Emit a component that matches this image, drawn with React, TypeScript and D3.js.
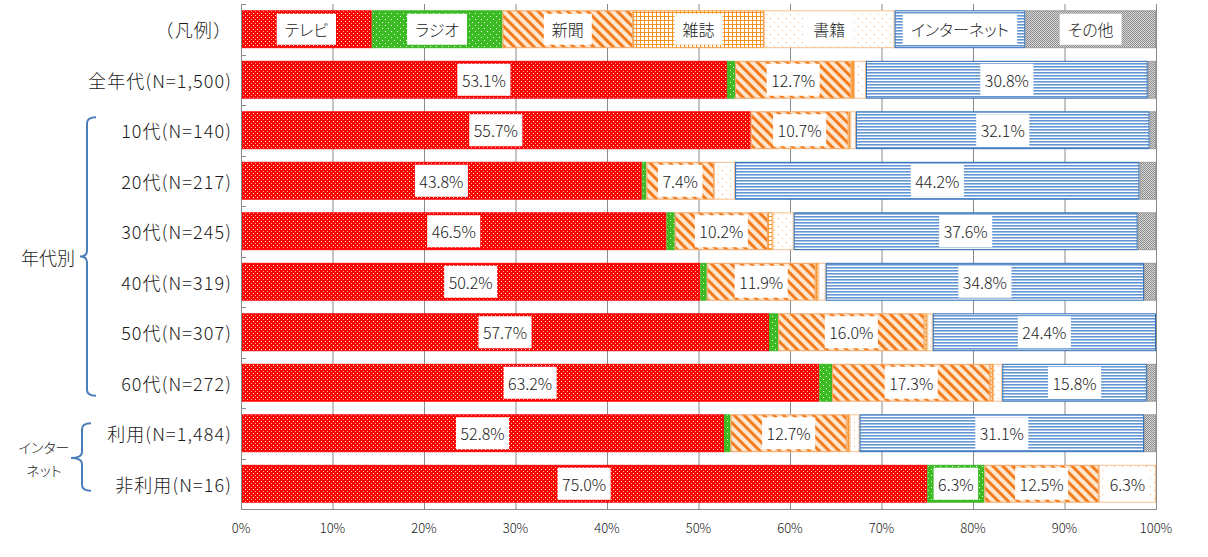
import React, { useEffect, useRef } from "react";
import * as d3 from "d3";

const W = 1208;
const H = 557;

const categories = [
  "（凡例）",
  "全年代(N=1,500)",
  "10代(N=140)",
  "20代(N=217)",
  "30代(N=245)",
  "40代(N=319)",
  "50代(N=307)",
  "60代(N=272)",
  "利用(N=1,484)",
  "非利用(N=16)",
];
const seriesNames = ["テレビ", "ラジオ", "新聞", "雑誌", "書籍", "インターネット", "その他"];
const seriesKeys = ["tv", "radio", "newspaper", "magazine", "books", "internet", "other"];

// data rows (categories[1..])
const tv = [53.1, 55.7, 43.8, 46.5, 50.2, 57.7, 63.2, 52.8, 75.0];
const radio = [0.9, 0.0, 0.5, 0.9, 0.7, 1.0, 1.4, 0.7, 6.25];
const newspaper = [12.7, 10.7, 7.4, 10.2, 11.9, 16.0, 17.3, 12.7, 12.5];
const magazine = [0.3, 0.2, 0.0, 0.5, 0.3, 0.3, 0.3, 0.3, 0.0];
const books = [1.3, 0.6, 2.3, 2.3, 0.8, 0.6, 1.0, 1.1, 6.25];
const internet = [30.8, 32.1, 44.2, 37.6, 34.8, 24.4, 15.8, 31.1, 0.0];
const other = [0.9, 0.7, 1.8, 2.0, 1.3, 0.0, 1.0, 1.3, 0.0];

const xTicks = [0, 10, 20, 30, 40, 50, 60, 70, 80, 90, 100];
const legendShare = 100 / seriesNames.length;

const strokeColors = ["#ff0000", "#3cb521", "#f4a460", "#f79a3a", "#f8c08f", "#2e6db4", "#9a9a9a"];

const FONT = '"Noto Sans CJK JP", "Noto Sans", sans-serif';

export default function App() {
  const ref = useRef<SVGSVGElement | null>(null);

  useEffect(() => {
    const svg = d3.select(ref.current);
    svg.selectAll("*").remove();

    const left = 241;
    const right = 1156;
    const top = 4;
    const bottom = 509;

    const x = d3.scaleLinear().domain([0, 100]).range([left, right]);
    const y = d3
      .scaleBand<string>()
      .domain(categories)
      .range([top, bottom])
      .paddingInner(0.25)
      .paddingOuter(0.125);

    // patterns
    const defs = svg.append("defs");
    const pTv = defs.append("pattern").attr("id", "p0").attr("patternUnits", "userSpaceOnUse").attr("width", 4).attr("height", 4);
    pTv.append("rect").attr("width", 4).attr("height", 4).attr("fill", "#ff0000");
    pTv.append("rect").attr("x", 1).attr("y", 1).attr("width", 1).attr("height", 1).attr("fill", "#ffffff");
    pTv.append("rect").attr("x", 3).attr("y", 3).attr("width", 1).attr("height", 1).attr("fill", "#ffb0b0");
    const pR = defs.append("pattern").attr("id", "p1").attr("patternUnits", "userSpaceOnUse").attr("width", 6).attr("height", 6);
    pR.append("rect").attr("width", 6).attr("height", 6).attr("fill", "#3dbb24");
    pR.append("rect").attr("x", 1).attr("y", 1).attr("width", 1).attr("height", 1).attr("fill", "#e8ffe0");
    pR.append("rect").attr("x", 4).attr("y", 4).attr("width", 1).attr("height", 1).attr("fill", "#e8ffe0");
    const pN = defs
      .append("pattern")
      .attr("id", "p2")
      .attr("patternUnits", "userSpaceOnUse")
      .attr("width", 7)
      .attr("height", 7)
      .attr("patternTransform", "rotate(-45)");
    pN.append("rect").attr("width", 7).attr("height", 7).attr("fill", "#fde6cf");
    pN.append("rect").attr("x", 0).attr("y", 0).attr("width", 3).attr("height", 7).attr("fill", "#f47c1c");
    const pM = defs.append("pattern").attr("id", "p3").attr("patternUnits", "userSpaceOnUse").attr("width", 4).attr("height", 4);
    pM.append("rect").attr("width", 4).attr("height", 4).attr("fill", "#ffffff");
    pM.append("rect").attr("x", 0).attr("y", 0).attr("width", 4).attr("height", 1).attr("fill", "#f7941d");
    pM.append("rect").attr("x", 0).attr("y", 0).attr("width", 1).attr("height", 4).attr("fill", "#f7941d");
    const pB = defs.append("pattern").attr("id", "p4").attr("patternUnits", "userSpaceOnUse").attr("width", 8).attr("height", 8);
    pB.append("rect").attr("width", 8).attr("height", 8).attr("fill", "#ffffff");
    pB.append("rect").attr("x", 2).attr("y", 2).attr("width", 1).attr("height", 1).attr("fill", "#f8b27a");
    pB.append("rect").attr("x", 6).attr("y", 6).attr("width", 1).attr("height", 1).attr("fill", "#f8b27a");
    const pI = defs.append("pattern").attr("id", "p5").attr("patternUnits", "userSpaceOnUse").attr("width", 4).attr("height", 3);
    pI.append("rect").attr("width", 4).attr("height", 3).attr("fill", "#ffffff");
    pI.append("rect").attr("x", 0).attr("y", 0).attr("width", 4).attr("height", 1.6).attr("fill", "#6596d4");
    const pO = defs.append("pattern").attr("id", "p6").attr("patternUnits", "userSpaceOnUse").attr("width", 2).attr("height", 2);
    pO.append("rect").attr("width", 2).attr("height", 2).attr("fill", "#d8d8d8");
    pO.append("rect").attr("x", 0).attr("y", 0).attr("width", 1).attr("height", 1).attr("fill", "#8c8c8c");
    pO.append("rect").attr("x", 1).attr("y", 1).attr("width", 1).attr("height", 1).attr("fill", "#8c8c8c");

    svg.append("rect").attr("width", W).attr("height", H).attr("fill", "#ffffff");

    // gridlines
    svg
      .append("g")
      .selectAll("line")
      .data(xTicks)
      .join("line")
      .attr("x1", (d) => x(d) + 0.5)
      .attr("x2", (d) => x(d) + 0.5)
      .attr("y1", top)
      .attr("y2", bottom)
      .attr("stroke", "#8a8a8a")
      .attr("stroke-width", 1);

    const rows = categories.slice(1).map((c, i) => ({
      cat: c,
      tv: tv[i],
      radio: radio[i],
      newspaper: newspaper[i],
      magazine: magazine[i],
      books: books[i],
      internet: internet[i],
      other: other[i],
    }));
    const stack = d3.stack<any>().keys(seriesKeys);
    const stacked = stack(rows);

    type Seg = { cat: string; k: number; x0: number; x1: number; label: string | null; legend: boolean };
    const segs: Seg[] = [];
    seriesNames.forEach((name, k) => {
      segs.push({
        cat: categories[0],
        k,
        x0: k * legendShare,
        x1: (k + 1) * legendShare,
        label: name,
        legend: true,
      });
    });
    stacked.forEach((layer, k) => {
      layer.forEach((d: any) => {
        const v = d[1] - d[0];
        if (v <= 0) return;
        segs.push({
          cat: d.data.cat,
          k,
          x0: d[0],
          x1: d[1],
          label: v >= 5 ? `${v.toFixed(1)}%` : null,
          legend: false,
        });
      });
    });

    const bw = y.bandwidth();
    const gBars = svg.append("g");
    gBars
      .selectAll("rect")
      .data(segs)
      .join("rect")
      .attr("x", (d) => x(d.x0) + 0.5)
      .attr("y", (d) => (y(d.cat) as number) + 0.5)
      .attr("width", (d) => Math.max(0, x(d.x1) - x(d.x0) - 1))
      .attr("height", bw - 1)
      .attr("fill", (d) => `url(#p${d.k})`)
      .attr("stroke", (d) => strokeColors[d.k])
      .attr("stroke-width", 1);

    // labels
    const gLab = svg.append("g");
    segs
      .filter((d) => d.label)
      .forEach((d) => {
        const cx = (x(d.x0) + x(d.x1)) / 2;
        const cy = (y(d.cat) as number) + bw / 2;
        const g = gLab.append("g");
        const rect = g.append("rect").attr("fill", "#ffffff");
        const t = g
          .append("text")
          .attr("x", cx)
          .attr("y", cy)
          .attr("text-anchor", "middle")
          .attr("dominant-baseline", "central")
          .attr("font-family", FONT)
          .attr("font-weight", 300)
          .attr("font-size", 16)
          .attr("fill", "#1a1a1a")
          .text(d.label as string);
        if (d.legend) t.style("font-feature-settings", '"palt"');
        const tw = (t.node() as SVGTextElement).getComputedTextLength();
        const pad = d.legend ? 16 : 9;
        const bh = d.legend ? 31 : 32;
        rect
          .attr("x", cx - (tw + pad) / 2)
          .attr("y", cy - bh / 2)
          .attr("width", tw + pad)
          .attr("height", bh);
      });

    // axes lines
    svg
      .append("line")
      .attr("x1", left + 0.5)
      .attr("x2", left + 0.5)
      .attr("y1", top)
      .attr("y2", bottom)
      .attr("stroke", "#8a8a8a");
    svg
      .append("line")
      .attr("x1", left)
      .attr("x2", right + 1)
      .attr("y1", bottom + 0.5)
      .attr("y2", bottom + 0.5)
      .attr("stroke", "#8a8a8a");
    const step = y.step();
    const bounds = d3.range(categories.length + 1).map((i) => top + i * step);
    svg
      .append("g")
      .selectAll("line")
      .data(bounds)
      .join("line")
      .attr("x1", left)
      .attr("x2", left + 5)
      .attr("y1", (d) => Math.round(d) + 0.5)
      .attr("y2", (d) => Math.round(d) + 0.5)
      .attr("stroke", "#8a8a8a");

    // x tick labels
    svg
      .append("g")
      .selectAll("text")
      .data(xTicks)
      .join("text")
      .attr("x", (d) => x(d))
      .attr("y", 527)
      .attr("text-anchor", "middle")
      .attr("dominant-baseline", "central")
      .attr("font-family", FONT)
      .attr("font-weight", 300)
      .attr("font-size", 13)
      .attr("fill", "#1a1a1a")
      .text((d) => `${d}%`);

    // category labels
    svg
      .append("g")
      .selectAll("text")
      .data(categories)
      .join("text")
      .attr("x", 232)
      .attr("y", (d) => (y(d) as number) + bw / 2)
      .attr("text-anchor", "end")
      .attr("dominant-baseline", "central")
      .attr("font-family", FONT)
      .attr("font-weight", 300)
      .attr("font-size", 18)
      .attr("letter-spacing", 1.1)
      .attr("fill", "#1a1a1a")
      .text((d) => d);

    // brackets
    const bracketColor = "#4a7ebb";
    const bracket = (xv: number, y0: number, y1: number, ym: number, xr: number, xl: number) => {
      const r = 6;
      return `M${xr},${y0} Q${xv},${y0} ${xv},${y0 + r} L${xv},${ym - r} Q${xv},${ym} ${xl},${ym} Q${xv},${ym} ${xv},${ym + r} L${xv},${y1 - r} Q${xv},${y1} ${xr},${y1}`;
    };
    const y10 = y(categories[2]) as number;
    const y60 = (y(categories[7]) as number) + bw;
    svg
      .append("path")
      .attr("d", bracket(87, y10 + 6, y60 - 6, (y10 + y60) / 2, 96, 80))
      .attr("fill", "none")
      .attr("stroke", bracketColor)
      .attr("stroke-width", 2);
    svg
      .append("text")
      .attr("x", 48)
      .attr("y", (y10 + y60) / 2)
      .attr("text-anchor", "middle")
      .attr("dominant-baseline", "central")
      .attr("font-family", FONT)
      .attr("font-weight", 300)
      .attr("font-size", 18)
      .attr("fill", "#1a1a1a")
      .text("年代別");

    const yU = y(categories[8]) as number;
    const yN = (y(categories[9]) as number) + bw;
    svg
      .append("path")
      .attr("d", bracket(82, yU + 9, yN - 12, 458, 91, 71))
      .attr("fill", "none")
      .attr("stroke", bracketColor)
      .attr("stroke-width", 2);
    const it = svg
      .append("text")
      .attr("text-anchor", "middle")
      .attr("font-family", FONT)
      .attr("font-weight", 300)
      .attr("font-size", 14)
      .attr("fill", "#1a1a1a")
      .style("font-feature-settings", '"palt"');
    it.append("tspan").attr("x", 44).attr("y", 453).text("インター");
    it.append("tspan").attr("x", 44).attr("y", 476).text("ネット");
  }, []);

  return (
    <svg
      ref={ref}
      width={W}
      height={H}
      style={{ position: "absolute", left: 0, top: 0, display: "block" }}
    />
  );
}
